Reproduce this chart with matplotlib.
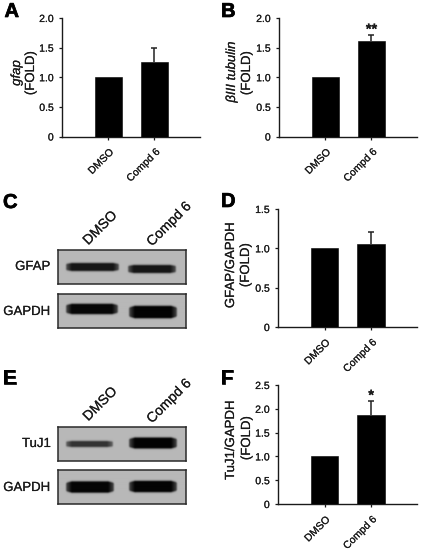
import numpy as np
import matplotlib
matplotlib.use("Agg")
import matplotlib.pyplot as plt
import matplotlib.patheffects as pe
from matplotlib.text import Text

W, H = 423, 550
plt.rcParams['font.family'] = ['Liberation Sans', 'DejaVu Sans']

categories = ["DMSO", "Compd 6"]
a_values = [1.0, 1.25]
a_upper = [0.0, 0.24]
b_values = [1.0, 1.62]
b_upper = [0.0, 0.10]
d_values = [1.0, 1.05]
d_upper = [0.0, 0.16]
f_values = [1.0, 1.87]
f_upper = [0.0, 0.30]
a_ticks = [0, 0.5, 1.0, 1.5, 2.0]
d_ticks = [0, 0.5, 1.0, 1.5]
f_ticks = [0, 0.5, 1.0, 1.5, 2.0, 2.5]

fig = plt.figure(figsize=(W / 100, H / 100), dpi=100, facecolor='white')
INK = '#1a1a1a'


def px_axes(x0, y0, x1, y1, **kw):
    """Axes from pixel box: y measured from the top of the image."""
    return fig.add_axes([x0 / W, 1 - y1 / H, (x1 - x0) / W, (y1 - y0) / H], **kw)


def ftext(x, y, s, **kw):
    kw.setdefault('color', INK)
    return fig.text(x / W, 1 - y / H, s, **kw)


def fmt(t):
    return '0' if t == 0 else f'{t:.1f}'


def bar_panel(box, values, upper, ticks, ymax, star=None):
    ax = px_axes(*box)
    ax.patch.set_alpha(0)
    ax.bar([0, 1], values, width=0.59, color='black', edgecolor='black', linewidth=0.4,
           zorder=3)
    top = values[1] + upper[1]
    ax.vlines(1, values[1], top, color='#222222', linewidth=1.1, zorder=2)
    ax.plot([1], [top], marker='_', markersize=5, markeredgewidth=1.1, color='#222222',
            zorder=2)
    ax.set_xlim(-1.01, 1.99)
    ax.set_ylim(0, ymax)
    ax.set_yticks(ticks)
    ax.set_yticklabels([fmt(t) for t in ticks], fontsize=7.5, color=INK)
    ax.set_xticks([0, 1])
    ax.set_xticklabels(categories, rotation=45, ha='right', rotation_mode='anchor',
                       fontsize=7.5, color=INK)
    ax.tick_params(axis='y', length=2.5, width=0.9, pad=3.5, color=INK)
    ax.tick_params(axis='x', length=2.5, width=0.9, pad=5, color=INK)
    for s in ('top', 'right'):
        ax.spines[s].set_visible(False)
    for s in ('left', 'bottom'):
        ax.spines[s].set_linewidth(1.0)
        ax.spines[s].set_color(INK)
    if star:
        ax.annotate(star, (1, top), xytext=(0, -1.5), textcoords='offset points',
                    ha='center', va='bottom', fontsize=10.5, fontweight='bold', color=INK,
                    annotation_clip=False)
    return ax


bar_panel((62, 18, 200, 136.5), a_values, a_upper, a_ticks, 2.0)
bar_panel((279, 18, 417, 136.5), b_values, b_upper, a_ticks, 2.0, star='**')
bar_panel((278, 209, 417, 327), d_values, d_upper, d_ticks, 1.5)
bar_panel((278, 385, 417, 504), f_values, f_upper, f_ticks, 2.5, star='*')

# y-axis titles
rot = dict(rotation=90, ha='center', va='center', fontsize=9.5)
ftext(17, 73, 'gfap', style='italic', **rot)
ftext(31, 73, '(FOLD)', **rot)
ftext(232, 72, 'βIII tubulin', style='italic', **rot)
ftext(247, 73, '(FOLD)', **rot)
ftext(231, 265, 'GFAP/GAPDH', **rot)
ftext(246, 265, '(FOLD)', **rot)
ftext(231, 440, 'TuJ1/GAPDH', **rot)
ftext(247, 438, '(FOLD)', **rot)

# panel letters
letters = []
for (x, y, s) in [(4.5, 17, 'A'), (221, 17, 'B'), (3, 208, 'C'), (221, 207, 'D'),
                  (3, 384, 'E'), (221, 384, 'F')]:
    letters.append(ftext(x, y, s, fontsize=14.5, fontweight='bold', color='black',
                         ha='left', va='baseline'))

# western blot strips
strip_boxes = [(58, 250, 186, 284), (58, 294, 186, 328), (58, 427, 186, 461), (58, 470, 186, 504)]
# per strip: two bands as (x start, x end, y centre, thickness, darkness), pixels
strip_bands = [
    [(65, 120, 267, 5.5, 0.88), (127, 177, 269, 5.5, 0.88)],
    [(65, 119, 309.5, 7.5, 0.96), (128, 178, 312.5, 9.5, 0.98)],
    [(65, 114, 444, 3.5, 0.72), (128, 178, 443, 8.5, 0.98)],
    [(65, 115, 487.5, 8.5, 0.97), (128, 178, 487, 8.5, 0.98)],
]
BACK = 0.72


def strip_image(box, bands):
    x0, y0, x1, y1 = box
    xx, yy = np.meshgrid(np.arange(x0, x1, 0.5) + 0.25, np.arange(y0, y1, 0.5) + 0.25)
    dark = np.zeros_like(xx)
    for (a, b, c, t, d) in bands:
        ex = np.clip((xx - a) / 7.0, 0, 1) * np.clip((b - xx) / 7.0, 0, 1)
        ex = ex ** 0.6
        half = (t / 2) * (0.45 + 0.55 * ex)
        dist = np.abs(yy - c) - half
        ey = np.exp(-np.clip(dist, 0, None) ** 2 / 2.4)
        dark = np.maximum(dark, d * (0.35 + 0.65 * ex) * ey * np.clip((xx - a) / 2, 0, 1)
                          * np.clip((b - xx) / 2, 0, 1))
    return BACK * (1 - dark)


for box, bands in zip(strip_boxes, strip_bands):
    ax = px_axes(*box)
    ax.imshow(strip_image(box, bands), cmap='gray', vmin=0, vmax=1, aspect='auto',
              interpolation='bilinear')
    ax.set_xticks([])
    ax.set_yticks([])
    for s in ax.spines.values():
        s.set_linewidth(1.1)
        s.set_color('#2a2a2a')

# blot labels
blot = dict(ha='right', va='center', fontsize=9.5)
ftext(50.5, 267, 'GFAP', **blot)
ftext(50.5, 312, 'GAPDH', **blot)
ftext(51, 444, 'TuJ1', **blot)
ftext(50.5, 488, 'GAPDH', **blot)
head = dict(ha='center', va='center', fontsize=10, rotation=45, rotation_mode='anchor')
ftext(100, 228, 'DMSO', **head)
ftext(169, 224, 'Compd 6', **head)
ftext(100, 404, 'DMSO', **head)
ftext(169, 401, 'Compd 6', **head)

# the scanned labels read slightly heavy: thicken every glyph a little
for t in fig.findobj(Text):
    if t.get_text():
        t.set_path_effects([pe.withStroke(linewidth=0.12, foreground=t.get_color())])
for t in letters:
    t.set_path_effects([pe.withStroke(linewidth=0.5, foreground='black')])

fig.savefig('out.png', dpi=100, facecolor='white')
